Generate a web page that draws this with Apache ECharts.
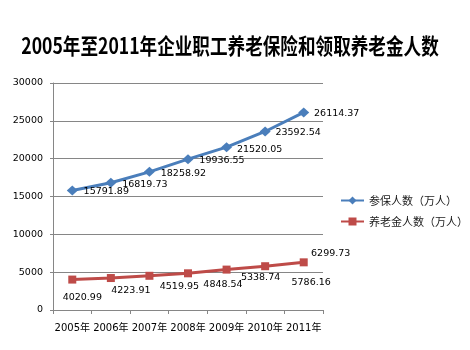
<!DOCTYPE html>
<html>
<head>
<meta charset="utf-8">
<script src="https://cdn.jsdelivr.net/npm/echarts@6/dist/echarts.min.js"></script>
<style>
  html, body { margin: 0; padding: 0; background: #ffffff; }
  #chart { width: 470px; height: 350px; }
</style>
</head>
<body>
<div id="chart"></div>
<script>
// Enterprise employee pension insurance, 2005–2011 (unit: 10,000 persons)
var titleText = '2005年至2011年企业职工养老保险和领取养老金人数';
var years = ['2005年', '2006年', '2007年', '2008年', '2009年', '2010年', '2011年'];
var insuredName = '参保人数（万人）';
var insured = [15791.89, 16819.73, 18258.92, 19936.55, 21520.05, 23592.54, 26114.37];
var pensionerName = '养老金人数（万人）';
var pensioners = [4020.99, 4223.91, 4519.95, 4848.54, 5338.74, 5786.16, 6299.73];
var yMin = 0, yMax = 30000, yStep = 5000;

var numFont = 'DejaVu Sans';
var cjkFont = '"Noto Sans CJK SC", sans-serif';

// label placement around each point (centre offset from the marker)
var insuredLabelShift = [[34, 1.5], [34, 1.5], [34, 1.5], [34, 1.5], [33, 2], [33, 1], [33, 1]];
var pensionerLabelShift = [[10, 18], [20, 12], [30, 11], [35, 11], [34, 8], [46, 16], [27, -9]];

function withLabels(values, shifts) {
  return values.map(function (v, i) {
    return { value: v, label: { offset: shifts[i] } };
  });
}

var chart = echarts.init(document.getElementById('chart'), null, { renderer: 'canvas' });

chart.setOption({
  animation: false,
  backgroundColor: '#ffffff',
  graphic: [{
    type: 'text',
    x: 230,
    y: 46,
    scaleX: 0.8,
    style: {
      x: 0, y: 0,
      text: titleText,
      fill: '#000000',
      font: 'bold 22px ' + cjkFont,
      textAlign: 'center',
      textVerticalAlign: 'middle'
    }
  }],
  legend: {
    orient: 'vertical',
    left: 340,
    top: 195,
    padding: 0,
    itemWidth: 23,
    itemHeight: 10,
    itemGap: 10,
    textStyle: { fontFamily: cjkFont, fontSize: 11, color: '#1a1a1a' },
    data: [insuredName, pensionerName]
  },
  grid: { left: 53, top: 83, width: 270, height: 227, containLabel: false },
  xAxis: {
    type: 'category',
    data: years,
    boundaryGap: true,
    axisLine: { lineStyle: { color: '#868686', width: 1 } },
    axisTick: { show: true, length: 4, interval: 0, alignWithLabel: false, lineStyle: { color: '#868686' } },
    axisLabel: { interval: 0, fontFamily: numFont + ', ' + cjkFont, fontSize: 10, color: '#000000', margin: 13 }
  },
  yAxis: {
    type: 'value',
    min: yMin,
    max: yMax,
    interval: yStep,
    axisLine: { show: true, lineStyle: { color: '#868686', width: 1 } },
    axisTick: { show: true, length: 3, lineStyle: { color: '#868686' } },
    axisLabel: {
      fontFamily: numFont, fontSize: 9.5, color: '#000000', margin: 10,
      formatter: function (v) { return String(v); }
    },
    splitLine: { lineStyle: { color: '#868686', width: 1 } }
  },
  series: [{
    name: insuredName,
    type: 'line',
    data: withLabels(insured, insuredLabelShift),
    color: '#4a7ebb',
    symbol: 'diamond',
    symbolSize: [11, 10],
    lineStyle: { width: 3, color: '#4a7ebb' },
    itemStyle: { color: '#4a7ebb' },
    label: {
      show: true,
      position: 'inside',
      fontFamily: numFont,
      fontSize: 9.5,
      color: '#000000',
      formatter: function (p) { return p.value.toFixed(2); }
    },
    z: 3
  }, {
    name: pensionerName,
    type: 'line',
    data: withLabels(pensioners, pensionerLabelShift),
    color: '#be4b48',
    symbol: 'rect',
    symbolSize: 8,
    lineStyle: { width: 3, color: '#be4b48' },
    itemStyle: { color: '#be4b48' },
    label: {
      show: true,
      position: 'inside',
      fontFamily: numFont,
      fontSize: 9.5,
      color: '#000000',
      formatter: function (p) { return p.value.toFixed(2); }
    },
    z: 3
  }]
});
</script>
</body>
</html>
